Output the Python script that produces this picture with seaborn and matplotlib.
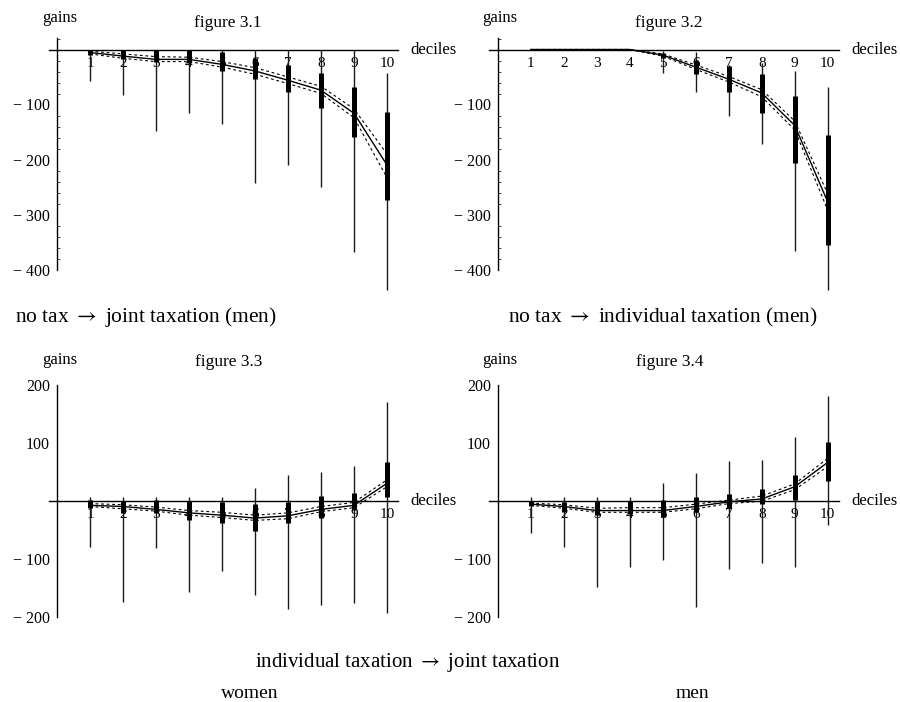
import matplotlib
matplotlib.use("Agg")
import matplotlib.pyplot as plt
import seaborn as sns
import numpy as np

# ---------------- data ----------------
deciles = [1, 2, 3, 4, 5, 6, 7, 8, 9, 10]
decile_labels = ["1", "2", "3", "4", "5", "6", "7", "8", "9", "10"]

# figure 3.1  no tax -> joint taxation (men)
p1_thin_hi = [0, 0, 0, 0, 0, 0, -1, 0, 0, -42]
p1_thin_lo = [-58, -82, -148, -115, -136, -242, -210, -250, -369, -438]
p1_box_hi = [0, 0, 0, 0, -4, -16, -28, -42, -69, -113]
p1_box_lo = [-10, -18, -22, -25, -39, -54, -77, -107, -159, -273]
p1_mean = [-5.5, -12, -18, -18, -27, -39, -56, -74, -116, -210]
p1_band_hi = [-3, -8, -13, -14, -22, -33, -50, -67, -108, -190]
p1_band_lo = [-8, -16, -22, -22, -32, -45, -62, -80, -124, -233]

# figure 3.2  no tax -> individual taxation (men)
p2_thin_hi = [0, 0, 0, 0, -2, -5, -28, -25, -39, -69]
p2_thin_lo = [0, 0, 0, 0, -42, -77, -121, -172, -366, -438]
p2_box_hi = [0, 0, 0, 0, -6, -19, -30, -45, -84, -156]
p2_box_lo = [0, 0, 0, 0, -15, -45, -77, -116, -206, -356]
p2_mean = [0, 0, 0, 0, -10, -32, -54, -79, -138, -277]
p2_band_hi = [0, 0, 0, 0, -8, -28, -49, -73, -130, -262]
p2_band_lo = [0, 0, 0, 0, -12, -36, -59, -86, -146, -292]

# figure 3.3  individual -> joint taxation (women)
p3_thin_hi = [6, 6, 6, 6, 6, 22, 45, 50, 60, 170]
p3_thin_lo = [-80, -174, -82, -157, -121, -163, -187, -180, -176, -193]
p3_box_hi = [1, 0, 1, 0, -3, -6, -3, 8, 14, 66]
p3_box_lo = [-13, -22, -22, -33, -39, -53, -39, -30, -16, 7]
p3_mean = [-8, -10, -15, -21, -25, -30, -26, -15, -8, 30]
p3_band_hi = [-5, -7, -11, -17, -20, -25, -21, -10, -3, 36]
p3_band_lo = [-10, -14, -18, -25, -29, -34, -31, -19, -12, 24]

# figure 3.4  individual -> joint taxation (men)
p4_thin_hi = [6, 6, 6, 6, 31, 48, 68, 70, 110, 181]
p4_thin_lo = [-55, -80, -148, -115, -103, -183, -117, -108, -114, -42]
p4_box_hi = [0, -3, 0, 0, 2, 6, 11, 20, 45, 102]
p4_box_lo = [-10, -19, -25, -23, -28, -19, -13, -5, 2, 34]
p4_mean = [-6, -10, -17, -17, -17, -10, -2, 3, 24, 66]
p4_band_hi = [-4, -7, -13, -12, -12, -6, 1, 8, 29, 73]
p4_band_lo = [-8, -13, -20, -20, -20, -14, -5, -1, 19, 59]

top_yticks = [-400, -300, -200, -100]
top_ylabels = ["\u2212 400", "\u2212 300", "\u2212 200", "\u2212 100"]
bot_yticks = [-200, -100, 100, 200]
bot_ylabels = ["\u2212 200", "\u2212 100", "100", "200"]

titles = ["figure 3.1", "figure 3.2", "figure 3.3", "figure 3.4"]
captions_top = ["no tax $\\rightarrow$ joint taxation (men)",
                "no tax $\\rightarrow$ individual taxation (men)"]
caption_bottom = "individual taxation $\\rightarrow$ joint taxation"
group_labels = ["women", "men"]

# ---------------- style ----------------
sns.set_style("white")
plt.rcParams["font.family"] = ["Liberation Serif", "DejaVu Serif"]
plt.rcParams["mathtext.fontset"] = "stix"

W, H = 900, 702
fig = plt.figure(figsize=(W / 100, H / 100), dpi=100)


def make_ax(x0, y0, sx, sy, xlim, ylim):
    left = x0 + xlim[0] * sx
    right = x0 + xlim[1] * sx
    top = y0 - ylim[1] * sy
    bottom = y0 - ylim[0] * sy
    ax = fig.add_axes([left / W, 1 - bottom / H, (right - left) / W, (bottom - top) / H])
    ax.set_xlim(*xlim)
    ax.set_ylim(*ylim)
    ax.patch.set_alpha(0)
    return ax


def draw_panel(ax, thin_hi, thin_lo, box_hi, box_lo, mean, band_hi, band_lo,
               yticks, ylabels, ybounds, minor):
    ax.vlines(deciles, thin_lo, thin_hi, color="#1a1a1a", lw=1.0, zorder=2)
    ax.vlines(deciles, box_lo, box_hi, color="black", lw=3.6, zorder=3)
    sns.lineplot(x=deciles, y=mean, ax=ax, color="black", lw=1.0, zorder=4)
    sns.lineplot(x=deciles, y=band_hi, ax=ax, color="black", lw=0.8,
                 linestyle=(0, (2.5, 2.5)), zorder=4)
    sns.lineplot(x=deciles, y=band_lo, ax=ax, color="black", lw=0.8,
                 linestyle=(0, (2.5, 2.5)), zorder=4)
    for s in ["top", "right"]:
        ax.spines[s].set_visible(False)
    ax.spines["left"].set_position(("data", 0))
    ax.spines["bottom"].set_position(("data", 0))
    ax.spines["left"].set_bounds(*ybounds)
    ax.spines["bottom"].set_bounds(-0.25, 10.33)
    for s in ["left", "bottom"]:
        ax.spines[s].set_linewidth(1.0)
        ax.spines[s].set_color("black")
        ax.spines[s].set_zorder(1)
    ax.set_xticks(deciles)
    ax.set_xticklabels(decile_labels)
    ax.set_yticks(yticks)
    ax.set_yticklabels(ylabels)
    if minor:
        ax.set_yticks(minor, minor=True)
    ax.tick_params(axis="x", direction="in", length=2.5, width=0.8, pad=5.5,
                   labelsize=11, colors="black")
    ax.tick_params(axis="y", which="major", direction="in", length=3.5, width=0.8,
                   pad=5, labelsize=11.5, colors="black")
    ax.tick_params(axis="y", which="minor", direction="in", length=2, width=0.6,
                   left=True)
    ax.set_xlabel("")
    ax.set_ylabel("")
    ax.grid(False)


xlim = (-0.5, 10.6)
top_minor = [v for v in range(-380, 21, 20) if v % 100 != 0]

ax1 = make_ax(57, 49.5, 33, 0.55, xlim, (-450, 35))
draw_panel(ax1, p1_thin_hi, p1_thin_lo, p1_box_hi, p1_box_lo, p1_mean, p1_band_hi,
           p1_band_lo, top_yticks, top_ylabels, (-400, 21), top_minor)
ax2 = make_ax(497.7, 49.5, 33, 0.55, xlim, (-450, 35))
draw_panel(ax2, p2_thin_hi, p2_thin_lo, p2_box_hi, p2_box_lo, p2_mean, p2_band_hi,
           p2_band_lo, top_yticks, top_ylabels, (-400, 21), top_minor)
ax3 = make_ax(57, 500.7, 33, 0.58, xlim, (-210, 210))
draw_panel(ax3, p3_thin_hi, p3_thin_lo, p3_box_hi, p3_box_lo, p3_mean, p3_band_hi,
           p3_band_lo, bot_yticks, bot_ylabels, (-200, 200), None)
ax4 = make_ax(497.7, 500.7, 33, 0.58, xlim, (-210, 210))
draw_panel(ax4, p4_thin_hi, p4_thin_lo, p4_box_hi, p4_box_lo, p4_mean, p4_band_hi,
           p4_band_lo, bot_yticks, bot_ylabels, (-200, 200), None)


def ftext(x, y, s, size, ha="left", va="baseline"):
    fig.text(x / W, 1 - y / H, s, fontsize=size, ha=ha, va=va, color="black")


# panel annotations
for (gx, gy, tx, ty, dx, dy, t) in [
    (59.5, 22, 228, 26.7, 410, 54, titles[0]),
    (500, 22, 669, 26.7, 851, 54, titles[1]),
    (59.5, 364, 229, 366, 410, 505, titles[2]),
    (500, 364, 670, 366, 851, 505, titles[3]),
]:
    ftext(gx, gy, "gains", 12, ha="center")
    ftext(tx, ty, t, 12.5, ha="center")
    ftext(dx, dy, "deciles", 12)

ftext(15, 322.5, captions_top[0], 15.5)
ftext(508, 322.5, captions_top[1], 15.5)
ftext(408, 667, caption_bottom, 15, ha="center")
ftext(250, 698, group_labels[0], 14, ha="center")
ftext(692, 698, group_labels[1], 14, ha="center")

fig.savefig("out.png", dpi=100)
